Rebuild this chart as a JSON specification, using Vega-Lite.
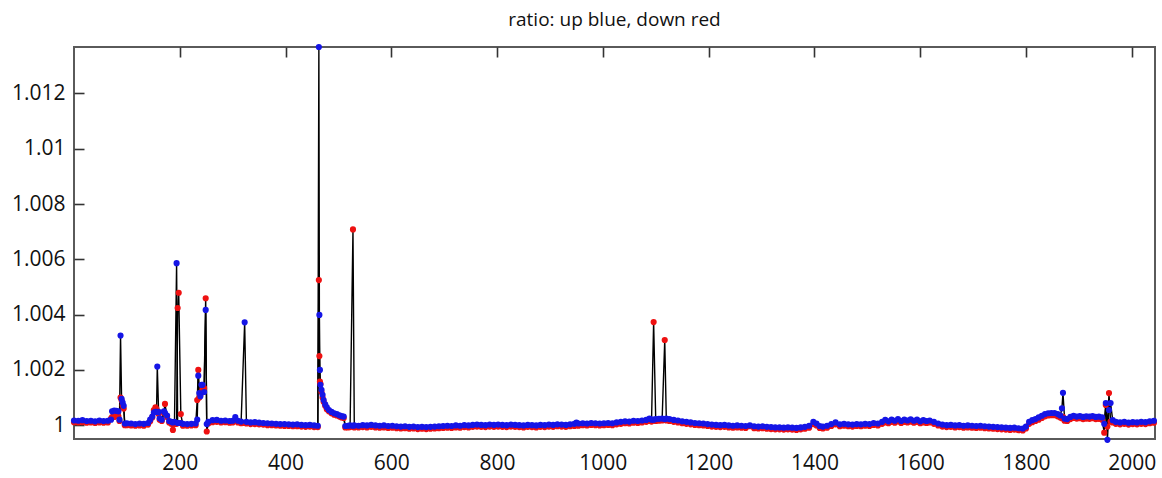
{
  "$schema": "https://vega.github.io/schema/vega-lite/v6.json",
  "autosize": {"type": "none"},
  "padding": {"left": 74, "top": 47, "right": 7, "bottom": 39},
  "width": 1081,
  "height": 392,
  "background": "white",
  "config": {
    "view": {"stroke": "#5a5a5a", "strokeWidth": 2},
    "axis": {"domain": false, "ticks": false, "grid": true, "gridColor": "#333", "gridWidth": 1.6, "gridOpacity": 1, "gridDash": [10, 5000], "labelFont": "Open Sans", "labelFontSize": 21, "labelColor": "#111", "title": null}
  },
  "title": {"text": "ratio: up blue, down red", "font": "Open Sans", "fontSize": 19, "fontWeight": "normal", "color": "#111", "offset": 14},
  "data": {"values": [
    {"x":0,"u":1.00017,"d":1.00011},{"x":8,"u":1.00016,"d":1.0001},{"x":16,"u":1.00018,"d":1.00011},{"x":24,"u":1.00015,"d":1.00009},{"x":32,"u":1.00016,"d":1.0001},{"x":40,"u":1.00014,"d":1.00008},{"x":48,"u":1.00017,"d":1.0001},{"x":56,"u":1.00015,"d":1.00009},{"x":64,"u":1.00016,"d":1.0001},
    {"x":70,"u":1.0002,"d":1.00024},{"x":72,"u":1.0005,"d":1.00029},{"x":76,"u":1.00053,"d":1.0003},{"x":80,"u":1.00052,"d":1.00035},{"x":84,"u":1.0005,"d":1.00032},{"x":86,"u":1.0002,"d":1.00015},{"x":88,"u":1.00324,"d":1.001},{"x":90,"u":1.00095,"d":1.0009},{"x":92,"u":1.00082,"d":1.00072},{"x":94,"u":1.0007,"d":1.0006},{"x":96,"u":1.00006,"d":1.0},
    {"x":100,"u":1.00007,"d":1.0},{"x":108,"u":1.00006,"d":0.99999},{"x":116,"u":1.00004,"d":0.99998},{"x":124,"u":1.00006,"d":0.99999},{"x":132,"u":1.00005,"d":0.99998},{"x":140,"u":1.00008,"d":1.00002},{"x":144,"u":1.0002,"d":1.00014},{"x":148,"u":1.00031,"d":1.00028},{"x":151,"u":1.00046,"d":1.00055},{"x":154,"u":1.00048,"d":1.00065},{"x":156,"u":1.00048,"d":1.00058},{"x":157.5,"u":1.00212,"d":1.0005},{"x":160,"u":1.00048,"d":1.0004},{"x":162,"u":1.00025,"d":1.0002},{"x":166,"u":1.0002,"d":1.00015},{"x":170,"u":1.0005,"d":1.00045},{"x":172,"u":1.00045,"d":1.00077},{"x":176,"u":1.00035,"d":1.0003},{"x":180,"u":1.00015,"d":1.0001},{"x":184,"u":1.00012,"d":1.00005},{"x":187,"u":1.0001,"d":0.99983},{"x":190,"u":1.00012,"d":1.00004},{"x":194,"u":1.00586,"d":1.00005},{"x":196,"u":1.00008,"d":1.00424},{"x":198,"u":1.00008,"d":1.00479},{"x":202,"u":1.00008,"d":1.0004},{"x":206,"u":1.00005,"d":0.99998},{"x":214,"u":1.00004,"d":0.99998},{"x":222,"u":1.00005,"d":0.99999},{"x":230,"u":1.00006,"d":1.0},
    {"x":233,"u":1.0002,"d":1.00091},{"x":235,"u":1.00179,"d":1.002},{"x":237,"u":1.00116,"d":1.001},{"x":239,"u":1.00105,"d":1.0011},{"x":241,"u":1.00146,"d":1.0012},{"x":243,"u":1.00146,"d":1.0013},{"x":246,"u":1.0012,"d":1.00134},{"x":249,"u":1.00417,"d":1.00459},{"x":251,"u":1.00004,"d":0.99977},{"x":254,"u":1.00012,"d":1.00006},{"x":262,"u":1.00018,"d":1.00011},{"x":270,"u":1.00019,"d":1.00012},{"x":278,"u":1.00016,"d":1.0001},{"x":286,"u":1.00017,"d":1.00011},{"x":294,"u":1.00015,"d":1.00009},{"x":300,"u":1.00016,"d":1.0001},{"x":305,"u":1.00029,"d":1.00018},{"x":310,"u":1.00016,"d":1.0001},{"x":316,"u":1.00013,"d":1.00007},{"x":322.7,"u":1.00372,"d":1.00008},{"x":326,"u":1.00012,"d":1.00006},{"x":334,"u":1.0001,"d":1.00004},{"x":342,"u":1.00011,"d":1.00004},{"x":350,"u":1.00009,"d":1.00003},{"x":358,"u":1.00008,"d":1.00002},{"x":366,"u":1.00007,"d":1.0},{"x":374,"u":1.00006,"d":1.0},{"x":382,"u":1.00005,"d":0.99999},{"x":390,"u":1.00004,"d":0.99998},{"x":398,"u":1.00004,"d":0.99997},{"x":406,"u":1.00003,"d":0.99997},{"x":414,"u":1.00002,"d":0.99996},{"x":422,"u":1.00003,"d":0.99996},{"x":430,"u":1.00001,"d":0.99995},{"x":438,"u":1.0,"d":0.99994},{"x":446,"u":1.00001,"d":0.99995},{"x":454,"u":0.99999,"d":0.99993},{"x":461,"u":0.99998,"d":0.99993},
    {"x":463,"u":1.01368,"d":1.00525},{"x":464,"u":1.00399,"d":1.0025},{"x":465,"u":1.002,"d":1.00158},{"x":466,"u":1.00146,"d":1.0015},{"x":468,"u":1.00128,"d":1.0012},{"x":470,"u":1.0011,"d":1.001},{"x":472,"u":1.00091,"d":1.00085},{"x":475,"u":1.00075,"d":1.0007},{"x":478,"u":1.00065,"d":1.00058},{"x":482,"u":1.00055,"d":1.0005},{"x":487,"u":1.00048,"d":1.00043},{"x":492,"u":1.00043,"d":1.00038},{"x":497,"u":1.0004,"d":1.00035},{"x":502,"u":1.00036,"d":1.00031},{"x":506,"u":1.00033,"d":1.00028},{"x":510,"u":1.00031,"d":1.00026},{"x":513,"u":0.99997,"d":0.99992},{"x":518,"u":0.99998,"d":0.99992},{"x":522,"u":0.99999,"d":0.99993},{"x":527.5,"u":0.99998,"d":1.00708},{"x":530,"u":0.99999,"d":0.99992},{"x":538,"u":0.99998,"d":0.99992},{"x":546,"u":1.0,"d":0.99993},{"x":554,"u":0.99999,"d":0.99992},{"x":562,"u":1.00001,"d":0.99994},{"x":570,"u":0.99999,"d":0.99992},{"x":578,"u":0.99998,"d":0.99991},{"x":586,"u":0.99999,"d":0.99992},{"x":594,"u":0.99997,"d":0.9999},
    {"x":602,"u":0.99998,"d":0.99991},{"x":610,"u":0.99996,"d":0.99989},{"x":618,"u":0.99995,"d":0.99988},{"x":626,"u":0.99996,"d":0.99989},{"x":634,"u":0.99994,"d":0.99987},{"x":642,"u":0.99995,"d":0.99988},{"x":650,"u":0.99993,"d":0.99986},{"x":658,"u":0.99994,"d":0.99987},{"x":666,"u":0.99993,"d":0.99986},{"x":674,"u":0.99994,"d":0.99987},{"x":682,"u":0.99995,"d":0.99988},{"x":690,"u":0.99996,"d":0.99989},{"x":698,"u":0.99997,"d":0.9999},{"x":706,"u":0.99998,"d":0.99991},{"x":714,"u":0.99997,"d":0.9999},{"x":722,"u":0.99999,"d":0.99992},{"x":730,"u":0.99998,"d":0.99991},{"x":738,"u":1.0,"d":0.99993},{"x":746,"u":0.99999,"d":0.99992},{"x":754,"u":1.00001,"d":0.99994},{"x":762,"u":1.00002,"d":0.99995},{"x":770,"u":1.00001,"d":0.99994},{"x":778,"u":1.0,"d":0.99993},{"x":786,"u":1.00002,"d":0.99995},{"x":794,"u":1.00001,"d":0.99994},
    {"x":802,"u":1.00002,"d":0.99995},{"x":810,"u":1.00001,"d":0.99994},{"x":818,"u":1.0,"d":0.99993},{"x":826,"u":1.00002,"d":0.99995},{"x":834,"u":1.00001,"d":0.99994},{"x":842,"u":1.0,"d":0.99993},{"x":850,"u":0.99999,"d":0.99992},{"x":858,"u":1.00001,"d":0.99994},{"x":866,"u":1.0,"d":0.99993},{"x":874,"u":0.99999,"d":0.99992},{"x":882,"u":1.00001,"d":0.99994},{"x":890,"u":1.0,"d":0.99993},{"x":898,"u":1.00002,"d":0.99995},{"x":906,"u":1.00001,"d":0.99994},{"x":914,"u":1.00003,"d":0.99996},{"x":922,"u":1.00002,"d":0.99995},{"x":930,"u":1.00001,"d":0.99994},{"x":938,"u":1.00003,"d":0.99996},{"x":946,"u":1.00005,"d":0.99997},{"x":950,"u":1.00009,"d":1.0},{"x":954,"u":1.00006,"d":0.99998},{"x":962,"u":1.00007,"d":1.0},{"x":970,"u":1.00006,"d":0.99999},{"x":978,"u":1.00008,"d":1.00001},{"x":986,"u":1.00007,"d":1.0},{"x":994,"u":1.00006,"d":0.99999},
    {"x":1002,"u":1.00007,"d":1.0},{"x":1010,"u":1.00008,"d":1.00001},{"x":1018,"u":1.00007,"d":1.0},{"x":1026,"u":1.0001,"d":1.00003},{"x":1034,"u":1.00012,"d":1.00005},{"x":1042,"u":1.00014,"d":1.00007},{"x":1050,"u":1.00013,"d":1.00006},{"x":1058,"u":1.00016,"d":1.00009},{"x":1066,"u":1.00015,"d":1.00008},{"x":1074,"u":1.00017,"d":1.0001},{"x":1082,"u":1.00019,"d":1.00012},{"x":1088,"u":1.00024,"d":1.00015},{"x":1092,"u":1.0002,"d":1.00013},{"x":1096,"u":1.0002,"d":1.00373},{"x":1100,"u":1.00022,"d":1.00015},{"x":1106,"u":1.00023,"d":1.00016},{"x":1112,"u":1.00024,"d":1.00017},{"x":1117,"u":1.00022,"d":1.00308},{"x":1120,"u":1.00024,"d":1.00017},{"x":1126,"u":1.00022,"d":1.00015},{"x":1134,"u":1.00019,"d":1.00012},{"x":1142,"u":1.00017,"d":1.0001},{"x":1150,"u":1.00014,"d":1.00007},{"x":1158,"u":1.00012,"d":1.00005},{"x":1166,"u":1.0001,"d":1.00003},{"x":1174,"u":1.00008,"d":1.00001},{"x":1182,"u":1.00007,"d":1.0},{"x":1190,"u":1.00006,"d":0.99999},{"x":1198,"u":1.00004,"d":0.99997},
    {"x":1206,"u":1.00002,"d":0.99995},{"x":1214,"u":1.00001,"d":0.99994},{"x":1222,"u":1.0,"d":0.99993},{"x":1230,"u":1.00001,"d":0.99994},{"x":1238,"u":0.99999,"d":0.99992},{"x":1246,"u":0.99998,"d":0.99991},{"x":1254,"u":0.99999,"d":0.99992},{"x":1262,"u":0.99998,"d":0.99991},{"x":1270,"u":0.99997,"d":0.9999},{"x":1278,"u":0.99999,"d":0.99996},{"x":1286,"u":0.99996,"d":0.99989},{"x":1294,"u":0.99995,"d":0.99988},{"x":1302,"u":0.99996,"d":0.99989},{"x":1310,"u":0.99994,"d":0.99987},{"x":1318,"u":0.99993,"d":0.99986},{"x":1326,"u":0.99992,"d":0.99985},{"x":1334,"u":0.99992,"d":0.99985},{"x":1342,"u":0.99991,"d":0.99984},{"x":1350,"u":0.99992,"d":0.99985},{"x":1358,"u":0.99991,"d":0.99984},{"x":1366,"u":0.9999,"d":0.99983},{"x":1374,"u":0.99992,"d":0.99985},{"x":1382,"u":0.99994,"d":0.99987},{"x":1390,"u":0.99998,"d":0.99991},{"x":1398,"u":1.00012,"d":1.00004},
    {"x":1404,"u":1.00006,"d":0.99999},{"x":1410,"u":0.99997,"d":0.9999},{"x":1416,"u":0.99995,"d":0.99988},{"x":1424,"u":0.99998,"d":0.99991},{"x":1432,"u":1.00004,"d":0.99997},{"x":1440,"u":1.0001,"d":1.00003},{"x":1448,"u":1.00003,"d":0.99996},{"x":1456,"u":1.00005,"d":0.99998},{"x":1464,"u":1.00003,"d":0.99996},{"x":1472,"u":1.00002,"d":0.99995},{"x":1480,"u":1.00004,"d":0.99997},{"x":1488,"u":1.00003,"d":0.99996},{"x":1496,"u":1.00005,"d":0.99998},{"x":1504,"u":1.00004,"d":0.99997},{"x":1512,"u":1.00008,"d":1.00001},{"x":1520,"u":1.00006,"d":0.99999},{"x":1528,"u":1.00012,"d":1.00005},{"x":1534,"u":1.00019,"d":1.0001},{"x":1540,"u":1.00014,"d":1.00007},{"x":1546,"u":1.0002,"d":1.00012},{"x":1552,"u":1.00016,"d":1.00009},{"x":1558,"u":1.00022,"d":1.00014},{"x":1564,"u":1.00015,"d":1.00008},{"x":1570,"u":1.0002,"d":1.00012},{"x":1576,"u":1.00017,"d":1.0001},{"x":1582,"u":1.00021,"d":1.00013},{"x":1588,"u":1.00016,"d":1.00009},{"x":1594,"u":1.0002,"d":1.00012},
    {"x":1600,"u":1.00014,"d":1.00007},{"x":1606,"u":1.00018,"d":1.0001},{"x":1612,"u":1.00015,"d":1.00008},{"x":1618,"u":1.00017,"d":1.0001},{"x":1626,"u":1.00012,"d":1.00005},{"x":1634,"u":1.00006,"d":0.99999},{"x":1642,"u":1.00002,"d":0.99995},{"x":1650,"u":1.0,"d":0.99993},{"x":1658,"u":1.00001,"d":0.99994},{"x":1666,"u":0.99999,"d":0.99992},{"x":1674,"u":1.0,"d":0.99993},{"x":1682,"u":0.99998,"d":0.99991},{"x":1690,"u":0.99999,"d":0.99992},{"x":1698,"u":0.99998,"d":0.99991},{"x":1706,"u":0.99997,"d":0.9999},{"x":1714,"u":0.99998,"d":0.99991},{"x":1722,"u":0.99996,"d":0.99989},{"x":1730,"u":0.99995,"d":0.99988},{"x":1738,"u":0.99994,"d":0.99987},{"x":1746,"u":0.99993,"d":0.99986},{"x":1754,"u":0.99992,"d":0.99985},{"x":1762,"u":0.99991,"d":0.99984},{"x":1770,"u":0.9999,"d":0.99983},{"x":1778,"u":0.99991,"d":0.99984},{"x":1786,"u":0.99989,"d":0.99982},{"x":1794,"u":0.99988,"d":0.99981},
    {"x":1800,"u":0.99995,"d":0.99988},{"x":1806,"u":1.00012,"d":1.00005},{"x":1812,"u":1.00018,"d":1.00011},{"x":1818,"u":1.00022,"d":1.00015},{"x":1824,"u":1.00028,"d":1.0002},{"x":1830,"u":1.00034,"d":1.00026},{"x":1836,"u":1.0004,"d":1.00032},{"x":1842,"u":1.00043,"d":1.00035},{"x":1848,"u":1.00044,"d":1.00036},{"x":1854,"u":1.00044,"d":1.00036},{"x":1860,"u":1.0004,"d":1.00032},{"x":1865,"u":1.00035,"d":1.00028},{"x":1868,"u":1.00061,"d":1.00025},{"x":1870,"u":1.00117,"d":1.0003},{"x":1873,"u":1.00024,"d":1.00016},{"x":1878,"u":1.00022,"d":1.00015},{"x":1884,"u":1.0003,"d":1.00022},{"x":1890,"u":1.00034,"d":1.00026},{"x":1896,"u":1.00031,"d":1.00024},{"x":1902,"u":1.00033,"d":1.00025},{"x":1908,"u":1.0003,"d":1.00022},{"x":1914,"u":1.00032,"d":1.00024},{"x":1920,"u":1.00031,"d":1.00023},{"x":1926,"u":1.00033,"d":1.00025},{"x":1932,"u":1.0003,"d":1.00022},{"x":1938,"u":1.00031,"d":1.00023},{"x":1944,"u":1.00028,"d":1.0002},
    {"x":1948,"u":1.00005,"d":0.99973},{"x":1951,"u":1.0008,"d":1.00073},{"x":1954,"u":0.99947,"d":0.99995},{"x":1957,"u":1.00055,"d":1.00116},{"x":1960,"u":1.0008,"d":1.00013},{"x":1964,"u":1.00018,"d":1.0001},{"x":1970,"u":1.00012,"d":1.00005},{"x":1978,"u":1.0001,"d":1.00003},{"x":1986,"u":1.00012,"d":1.00005},{"x":1994,"u":1.00009,"d":1.00002},{"x":2002,"u":1.00011,"d":1.00004},{"x":2010,"u":1.0001,"d":1.00003},{"x":2018,"u":1.00012,"d":1.00005},{"x":2026,"u":1.00011,"d":1.00004},{"x":2034,"u":1.00014,"d":1.00007},{"x":2042,"u":1.00016,"d":1.00009}
  ]},
  "resolve": {"axis": {"x": "independent", "y": "independent"}},
  "layer": [
    {
      "mark": {"type": "line", "color": "black", "strokeWidth": 1.4, "clip": false},
      "encoding": {
        "x": {"field": "x", "type": "quantitative", "scale": {"domain": [0, 2044], "nice": false, "zero": false},
              "axis": {"orient": "bottom", "values": [200,400,600,800,1000,1200,1400,1600,1800,2000], "format": "d", "labelPadding": 13, "labelFlush": false}},
        "y": {"field": "d", "type": "quantitative", "scale": {"domain": [0.9995, 1.01368], "nice": false, "zero": false},
              "axis": {"orient": "left", "values": [1,1.002,1.004,1.006,1.008,1.01,1.012], "format": ".3~f", "labelPadding": 9}}
      }
    },
    {
      "mark": {"type": "line", "color": "black", "strokeWidth": 1.4, "clip": false},
      "encoding": {
        "x": {"field": "x", "type": "quantitative", "axis": {"orient": "top", "labels": false, "values": [200,400,600,800,1000,1200,1400,1600,1800,2000]}},
        "y": {"field": "u", "type": "quantitative", "axis": {"orient": "right", "labels": false, "values": [1,1.002,1.004,1.006,1.008,1.01,1.012]}}
      }
    },
    {
      "mark": {"type": "point", "filled": true, "shape": "circle", "size": 38, "color": "#ee1111", "opacity": 1},
      "encoding": {
        "x": {"field": "x", "type": "quantitative", "axis": null},
        "y": {"field": "d", "type": "quantitative", "axis": null}
      }
    },
    {
      "mark": {"type": "point", "filled": true, "shape": "circle", "size": 38, "color": "#1515e6", "opacity": 1},
      "encoding": {
        "x": {"field": "x", "type": "quantitative", "axis": null},
        "y": {"field": "u", "type": "quantitative", "axis": null}
      }
    }
  ]
}
